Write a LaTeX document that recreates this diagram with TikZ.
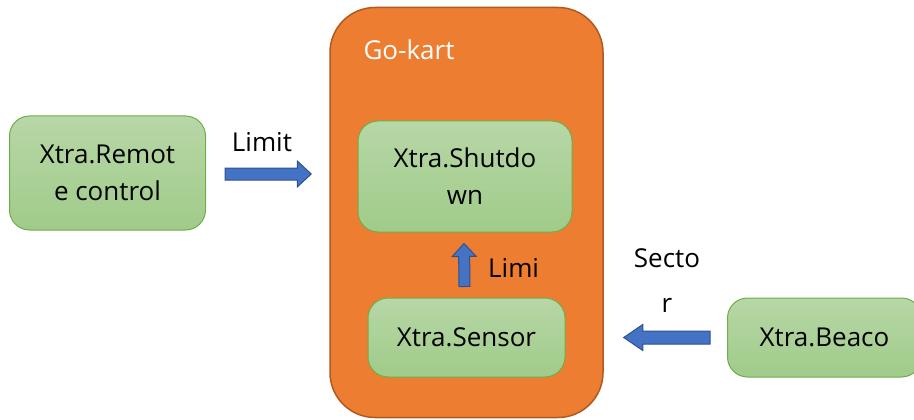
\documentclass[tikz,border=0pt]{standalone}
\usepackage{fontspec}
\setmainfont{Open Sans}
\usetikzlibrary{calc}
\definecolor{kartfill}{RGB}{237,125,49}
\definecolor{kartline}{RGB}{174,90,33}
\definecolor{gtop}{RGB}{183,215,167}
\definecolor{gbot}{RGB}{160,203,137}
\definecolor{gline}{RGB}{112,173,71}
\definecolor{afill}{RGB}{68,114,196}
\definecolor{aline}{RGB}{47,82,143}
\newcommand{\blockarr}[6]{% start, end, half shaft, half head, head length, name
  \coordinate (#6hb) at ($(#2)!#5!(#1)$);
  \filldraw[arrowstyle] ($(#1)!#3!90:(#2)$) -- ($(#6hb)!#3!-90:(#1)$) -- ($(#6hb)!#4!-90:(#1)$) -- (#2)
     -- ($(#6hb)!#4!90:(#1)$) -- ($(#6hb)!#3!90:(#1)$) -- ($(#1)!#3!-90:(#2)$) -- cycle;}
\tikzset{
  greenbox/.style={draw=gline, line width=1pt, rounded corners=20pt, top color=gtop, bottom color=gbot,
     align=center, font=\fontsize{26}{37}\selectfont, text=black, inner sep=0pt},
  arrowstyle/.style={fill=afill, draw=aline, line width=1pt, line join=miter},
  lbl/.style={font=\fontsize{26}{37}\selectfont, text=black, align=center, inner sep=0pt}
}
\begin{document}
\begin{tikzpicture}[x=1pt,y=-1pt]
\useasboundingbox (0,0) rectangle (914,420);
\node[draw=kartline, fill=kartfill, line width=1.5pt, rounded corners=45pt, minimum width=273pt, minimum height=410pt] (kart) at (466.5,212.5) {};
\node[font=\fontsize{26}{30}\selectfont, text=white, inner sep=0pt] (kartlbl) at (409,50) {Go-kart};
\node[greenbox, minimum width=196pt, minimum height=114pt] (remote) at (107.5,173) {Xtra.Remot\\e control};
\node[greenbox, minimum width=214pt, minimum height=111pt] (shut) at (465,176.5) {Xtra.Shutdo\\wn};
\node[greenbox, minimum width=197pt, minimum height=79pt] (sensor) at (466.5,337.5) {Xtra.Sensor};
\node[greenbox, minimum width=194pt, minimum height=79pt, anchor=west] (beacon) at (727,337.5) {Xtra.Beaco};
\coordinate (a1s) at ($(remote.east)+(19,1)$);
\coordinate (a1e) at ($(kart.west)+(-18,-38.5)$);
\blockarr{a1s}{a1e}{6pt}{13pt}{14pt}{a1}
\coordinate (a2s) at ($(sensor.north)+(-2,-11)$);
\coordinate (a2e) at ($(shut.south)+(-1,11)$);
\blockarr{a2s}{a2e}{5.5pt}{12pt}{13pt}{a2}
\coordinate (a3s) at ($(beacon.west)+(-17,0)$);
\coordinate (a3e) at ($(kart.east)+(20,125)$);
\blockarr{a3s}{a3e}{6.5pt}{13pt}{19pt}{a3}
\node[lbl] (l1) at (262,142) {Limit};
\node[lbl, anchor=west] (l2) at (488,268) {Limi};
\node[lbl, font=\fontsize{26}{45}\selectfont] (l3) at (667,281) {Secto\\r};
\end{tikzpicture}
\end{document}
